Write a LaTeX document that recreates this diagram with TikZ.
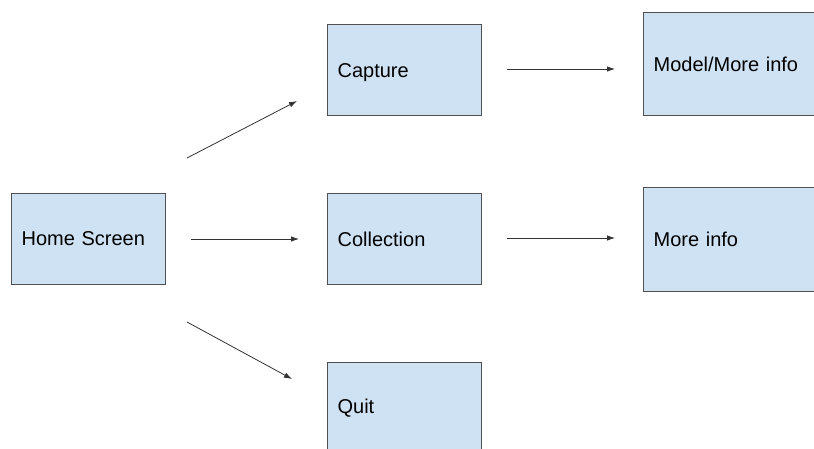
\documentclass[tikz,border=0pt]{standalone}
\usepackage{fontspec}
\setmainfont{Liberation Sans}
\usetikzlibrary{arrows.meta}
\definecolor{boxblue}{HTML}{CFE2F3}
\definecolor{boxline}{HTML}{505050}
\definecolor{arrowgray}{HTML}{333333}
\tikzset{
	screen/.style={draw=boxline, fill=boxblue, line width=1.2pt, minimum width=154pt, minimum height=91pt, inner xsep=10pt, text width=134pt, align=left, anchor=north west, font=\fontsize{20}{24}\selectfont},
	widescreen/.style={screen, minimum width=200pt, text width=180pt},
	flow/.style={draw=arrowgray, line width=0.8pt, -{Latex[length=8pt,width=5.5pt]}}
}

\begin{document}
\begin{tikzpicture}[x=1pt, y=-1pt]
			%%%%% START %%%%%
			
			\useasboundingbox (0, 0) rectangle (814, 448);
			\clip (0, 0) rectangle (814, 448);
			
			\node[screen] (home) at (11, 193) {Home Screen};
			
			\node[screen, text depth=-2pt] (capture) at (327, 24) {Capture};
			\node[screen] (collection) at (327, 193) {Collection};
			\node[screen] (quit) at (327, 362) {Quit};
			
			\node[widescreen, minimum height=103pt] (model) at (643, 12) {Model/More info};
			\node[widescreen, minimum height=104pt] (moreinfo) at (643, 187) {More info};
			
			\coordinate (homeup) at (187, 158);
			\coordinate (captureto) at (297, 101);
			\coordinate (homedown) at (187, 322);
			\coordinate (quitto) at (292, 379);
			
			\draw[flow] (homeup) -- (captureto);
			\draw[flow, shorten <=25pt, shorten >=28pt] (home.east |- 0, 239) -- (collection.west |- 0, 239);
			\draw[flow] (homedown) -- (quitto);
			
			\draw[flow, shorten <=25pt, shorten >=28pt] (capture.east |- 0, 69) -- (model.west |- 0, 69);
			\draw[flow, shorten <=25pt, shorten >=28pt] (collection.east |- 0, 238) -- (moreinfo.west |- 0, 238);
			
			%%%%% END %%%%%
\end{tikzpicture}
\end{document}
